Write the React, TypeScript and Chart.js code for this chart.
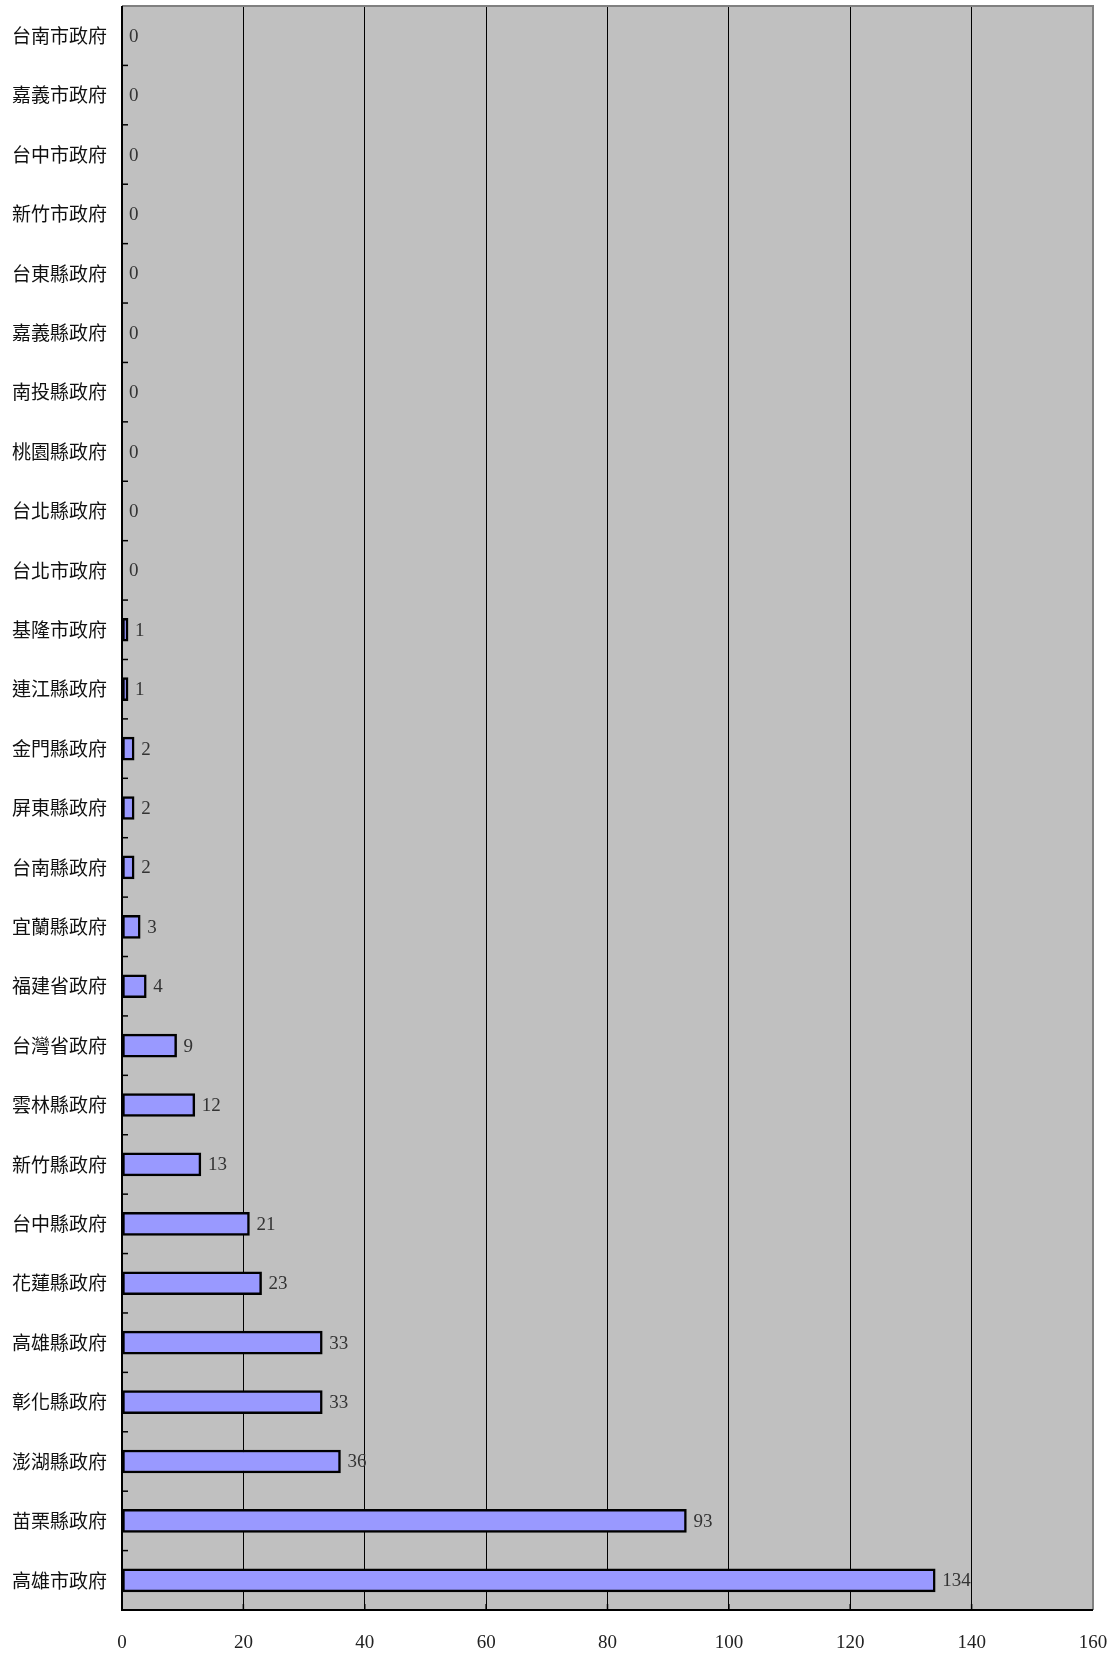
import React, { useEffect, useRef } from 'react';
import { Chart, registerables } from 'chart.js';
Chart.register(...registerables);

const categories = [
  '台南市政府', '嘉義市政府', '台中市政府', '新竹市政府', '台東縣政府', '嘉義縣政府',
  '南投縣政府', '桃園縣政府', '台北縣政府', '台北市政府', '基隆市政府', '連江縣政府',
  '金門縣政府', '屏東縣政府', '台南縣政府', '宜蘭縣政府', '福建省政府', '台灣省政府',
  '雲林縣政府', '新竹縣政府', '台中縣政府', '花蓮縣政府', '高雄縣政府', '彰化縣政府',
  '澎湖縣政府', '苗栗縣政府', '高雄市政府',
];
const values = [
  0, 0, 0, 0, 0, 0, 0, 0, 0, 0, 1, 1, 2, 2, 2, 3, 4, 9, 12, 13, 21, 23, 33, 33, 36, 93, 134,
];
const xMin = 0;
const xMax = 160;
const xStep = 20;

const NUM_FONT = '"Liberation Serif", "DejaVu Serif", serif';
const CJK_FONT = '"Noto Sans CJK TC", "Noto Sans CJK SC", sans-serif';

const zeroPad = (s: any) => {
  s.paddingTop = 0;
  s.paddingBottom = 0;
  s.paddingLeft = 0;
  s.paddingRight = 0;
};

const decorPlugin = {
  id: 'decor',
  beforeDraw(chart: any) {
    const { ctx, chartArea } = chart;
    ctx.save();
    ctx.fillStyle = '#C0C0C0';
    ctx.fillRect(chartArea.left, chartArea.top, chartArea.right - chartArea.left, chartArea.bottom - chartArea.top);
    ctx.restore();
  },
  afterDraw(chart: any) {
    const { ctx, chartArea } = chart;
    const { left, right, top, bottom } = chartArea;
    ctx.save();
    const yScale = chart.scales.y;
    const n = categories.length;
    ctx.strokeStyle = '#000';
    ctx.lineWidth = 1.5;
    for (let i = 1; i < n; i++) {
      const y = (yScale.getPixelForValue(i - 1) + yScale.getPixelForValue(i)) / 2;
      ctx.beginPath();
      ctx.moveTo(left, y);
      ctx.lineTo(left + 6, y);
      ctx.stroke();
    }
    const xScale = chart.scales.x;
    for (let v = xMin; v <= xMax; v += xStep) {
      const x = xScale.getPixelForValue(v);
      ctx.beginPath();
      ctx.moveTo(x, bottom);
      ctx.lineTo(x, bottom - 6);
      ctx.stroke();
    }
    ctx.lineWidth = 2;
    ctx.strokeStyle = '#808080';
    ctx.beginPath();
    ctx.moveTo(left, top);
    ctx.lineTo(right, top);
    ctx.lineTo(right, bottom);
    ctx.stroke();
    ctx.strokeStyle = '#000';
    ctx.beginPath();
    ctx.moveTo(left, top);
    ctx.lineTo(left, bottom);
    ctx.lineTo(right, bottom);
    ctx.stroke();
    const meta = chart.getDatasetMeta(0);
    ctx.fillStyle = '#333';
    ctx.font = '19px ' + NUM_FONT;
    ctx.textAlign = 'left';
    ctx.textBaseline = 'middle';
    meta.data.forEach((bar: any, i: number) => {
      ctx.fillText(String(values[i]), bar.x + 7, bar.y + 1);
    });
    ctx.restore();
  },
};

export default function App() {
  const ref = useRef<HTMLCanvasElement | null>(null);
  useEffect(() => {
    if (!ref.current) return;
    const chart = new Chart(ref.current, {
      type: 'bar',
      data: {
        labels: categories,
        datasets: [
          {
            data: values,
            backgroundColor: '#9999FF',
            borderColor: '#000',
            borderWidth: 2.5,
            borderSkipped: false,
            barThickness: 23,
          },
        ],
      },
      options: {
        indexAxis: 'y',
        responsive: false,
        animation: false,
        layout: { padding: { top: 6, right: 19, left: 0, bottom: 0 } },
        plugins: { legend: { display: false }, tooltip: { enabled: false } },
        scales: {
          x: {
            type: 'linear',
            min: xMin,
            max: xMax,
            ticks: {
              stepSize: xStep,
              color: '#222',
              font: { family: NUM_FONT, size: 19 },
              padding: 22,
              maxRotation: 0,
            },
            grid: { color: '#000', lineWidth: 1, drawTicks: false },
            border: { display: false },
            afterFit: (s: any) => { s.height = 44; zeroPad(s); },
          },
          y: {
            type: 'category',
            ticks: {
              color: '#111',
              font: { family: CJK_FONT, size: 19 },
              padding: 15,
              autoSkip: false,
            },
            grid: { display: false, drawTicks: false },
            border: { display: false },
            afterFit: (s: any) => { s.width = 122; zeroPad(s); },
          },
        },
      },
      plugins: [decorPlugin],
    } as any);
    return () => chart.destroy();
  }, []);
  return (
    <div style={{ position: 'absolute', left: 0, top: 0, width: 1112, height: 1654, background: '#fff' }}>
      <canvas ref={ref} width={1112} height={1654} style={{ width: 1112, height: 1654, display: 'block' }} />
    </div>
  );
}
